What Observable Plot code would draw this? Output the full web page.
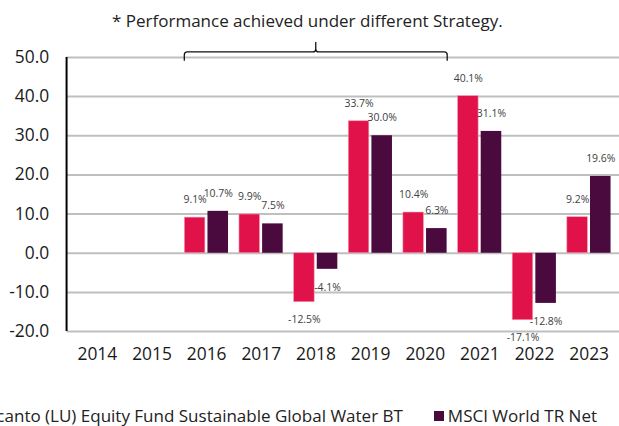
<!DOCTYPE html>
<html>
<head>
<meta charset="utf-8">
<script src="https://cdn.jsdelivr.net/npm/d3@7"></script>
<script src="https://cdn.jsdelivr.net/npm/@observablehq/plot@0.6"></script>
<style>
  html, body { margin: 0; padding: 0; background: #fff; width: 619px; height: 426px; overflow: hidden; position: relative; }
  body { font-family: "Open Sans", "Noto Sans", sans-serif; color: #1a1a1a; }
  #title { position: absolute; left: 0; top: 0; width: 619px; height: 40px; }
  #title span { position: absolute; left: 112px; top: 9px; font-size: 17px; white-space: nowrap; line-height: 24px; color: #222; }
  #chart { position: absolute; left: 0; top: 40px; }
  #legend { position: absolute; right: 22px; top: 406px; white-space: nowrap; font-size: 17px; line-height: 20px; display: flex; align-items: center; color: #222; }
  .sw { display: inline-block; width: 10px; height: 10px; margin-right: 4px; }
  .item { display: inline-flex; align-items: center; }
</style>
</head>
<body>
<div id="title"><span>* Performance achieved under different Strategy.</span></div>
<div id="chart"></div>
<div id="legend"></div>
<script>
// ---- data ----
const years = ["2014", "2015", "2016", "2017", "2018", "2019", "2020", "2021", "2022", "2023"];
const fundValues = [null, null, 9.1, 9.9, -12.5, 33.7, 10.4, 40.1, -17.1, 9.2];
const benchValues = [null, null, 10.7, 7.5, -4.1, 30.0, 6.3, 31.1, -12.8, 19.6];
const yTicks = [-20, -10, 0, 10, 20, 30, 40, 50];
const seriesNames = ["Swisscanto (LU) Equity Fund Sustainable Global Water BT", "MSCI World TR Net"];
const bracketYears = ["2016", "2020"];

// ---- styles / layout ----
const colors = ["#E1124A", "#4A0A3E"];
const W = 623, H = 340, ML = 67, MR = 0, MT = 17, MB = 47;
const band = (W - ML - MR) / years.length;
const outer = 5.5, gap = 2, barW = (band - 2 * outer - gap) / 2;

const rows = years.map((year, i) => ({year, fund: fundValues[i], bench: benchValues[i]}));
const fundRows = rows.filter(d => d.fund != null);
const benchRows = rows.filter(d => d.bench != null);
const fmt = v => v.toFixed(1) + "%";
const labelOffset = (band / 2) - (outer + barW / 2);

function bracketMark(index, scales, values, dimensions, context) {
  const g = d3.create("svg:g");
  const x = scales.x, y = scales.y;
  const x1 = x(bracketYears[0]) + outer;
  const x2 = x(bracketYears[1]) + band - outer;
  const cx = (x1 + x2) / 2;
  const yTop = y(d3.max(yTicks));
  const yb = yTop - 5, yEnd = yTop + 4, yPeak = yTop - 15, r = 3;
  g.append("path")
    .attr("fill", "none").attr("stroke", "#111").attr("stroke-width", 1.3)
    .attr("d", `M${x1},${yEnd} L${x1},${yb + r} Q${x1},${yb} ${x1 + r},${yb} L${cx - r},${yb} Q${cx},${yb} ${cx},${yb - r} L${cx},${yPeak} M${cx},${yb - r} Q${cx},${yb} ${cx + r},${yb} L${x2 - r},${yb} Q${x2},${yb} ${x2},${yb + r} L${x2},${yEnd}`);
  // left axis line
  g.append("line")
    .attr("x1", dimensions.marginLeft).attr("x2", dimensions.marginLeft)
    .attr("y1", y(d3.max(yTicks))).attr("y2", y(d3.min(yTicks)))
    .attr("stroke", "#000").attr("stroke-width", 2);
  return g.node();
}

const chart = Plot.plot({
  width: W, height: H,
  marginLeft: ML, marginRight: MR, marginTop: MT, marginBottom: MB,
  style: {fontFamily: "'Open Sans', 'Noto Sans', sans-serif", fontSize: "17.5px", color: "#1a1a1a", background: "transparent", overflow: "visible"},
  x: {domain: years, padding: 0, tickSize: 0, tickPadding: 16, label: null},
  y: {domain: [d3.min(yTicks), d3.max(yTicks)], ticks: yTicks, tickFormat: d => d.toFixed(1), tickSize: 0, tickPadding: 18, label: null},
  marks: [
    Plot.ruleY(yTicks, {stroke: "#bfbfbf", strokeWidth: 2}),
    Plot.barY(fundRows, {x: "year", y: "fund", fill: colors[0], insetLeft: outer, insetRight: outer + gap + barW, stroke: "#f2a0b6", strokeWidth: 0.6}),
    Plot.barY(benchRows, {x: "year", y: "bench", fill: colors[1], insetLeft: outer + gap + barW, insetRight: outer}),
    Plot.text(fundRows.filter(d => d.fund >= 0), {x: "year", y: "fund", text: d => fmt(d.fund), dx: -labelOffset, dy: -18, fontSize: 10.5, fill: "#404040"}),
    Plot.text(fundRows.filter(d => d.fund < 0), {x: "year", y: "fund", text: d => fmt(d.fund), dx: -labelOffset, dy: 18, fontSize: 10.5, fill: "#404040"}),
    Plot.text(benchRows.filter(d => d.bench >= 0), {x: "year", y: "bench", text: d => fmt(d.bench), dx: labelOffset, dy: -18, fontSize: 10.5, fill: "#404040"}),
    Plot.text(benchRows.filter(d => d.bench < 0), {x: "year", y: "bench", text: d => fmt(d.bench), dx: labelOffset, dy: 18, fontSize: 10.5, fill: "#404040"}),
    bracketMark
  ]
});
document.getElementById("chart").appendChild(chart);

const legend = document.getElementById("legend");
seriesNames.forEach((name, i) => {
  const item = document.createElement("span");
  item.className = "item";
  if (i > 0) item.style.marginLeft = "31px";
  const sw = document.createElement("span");
  sw.className = "sw";
  sw.style.background = colors[i];
  item.appendChild(sw);
  const t = document.createElement("span");
  t.textContent = name;
  item.appendChild(t);
  legend.appendChild(item);
});
</script>
</body>
</html>
